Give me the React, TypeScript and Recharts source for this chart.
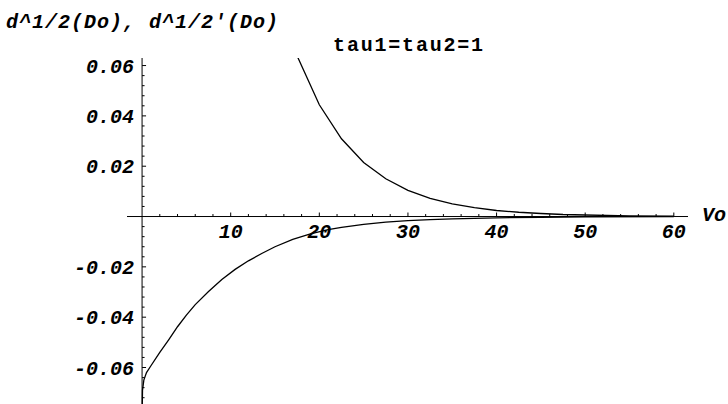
import React from "react";
import { LineChart, Line, XAxis, YAxis, ReferenceLine } from "recharts";

// d^1/2(Do) branch, decays above the axis
const upperVo = [17.5, 20, 22.5, 25, 27.5, 30, 32.5, 35, 37.5, 40, 42.5, 45, 47.5, 50, 55, 60];
const upperD = [0.0638, 0.0444, 0.0309, 0.0215, 0.015, 0.0104, 0.0072, 0.005, 0.0035, 0.0024, 0.0017, 0.0012, 0.0008, 0.0006, 0.0003, 0.00014];

// d^1/2'(Do) branch, rises from below toward zero
const lowerVo = [0, 0.05, 0.2, 0.5, 1, 2, 3, 4, 5, 6, 7.5, 9, 10.5, 12, 13.5, 15, 17, 19, 21, 22.5, 25, 27.5, 30, 32.5, 35, 40, 45, 50, 60];
const lowerD = [-0.08, -0.069, -0.065, -0.062, -0.0593, -0.054, -0.049, -0.0438, -0.0392, -0.035, -0.0298, -0.025, -0.021, -0.0176, -0.0147, -0.012, -0.0091, -0.0069, -0.0052, -0.0043, -0.0031, -0.0022, -0.0016, -0.0012, -0.0009, -0.0005, -0.0003, -0.00015, -0.00005];

const xMajor = [10, 20, 30, 40, 50, 60];
const yMajor = [-0.06, -0.04, -0.02, 0.02, 0.04, 0.06];

const upper = upperVo.map((vo, i) => ({ vo, d: upperD[i] }));
const lower = lowerVo.map((vo, i) => ({ vo, d: lowerD[i] }));

const W = 728;
const H = 404;
const M = { top: 58, right: 40, bottom: 0, left: 127 };
const X_MIN = -1.7;
const X_MAX = 61.6;
const Y_MIN = -0.0745;
const Y_MAX = 0.063;

// where the axes cross, in pixels
const zeroX = M.left + ((0 - X_MIN) / (X_MAX - X_MIN)) * (W - M.left - M.right);
const zeroY = M.top + ((Y_MAX - 0) / (Y_MAX - Y_MIN)) * (H - M.top - M.bottom);

const xTicks: number[] = [];
for (let v = 2; v <= 60; v += 2) xTicks.push(v);
const yTicks: number[] = [];
for (let k = -18; k <= 15; k++) if (k !== 0) yTicks.push(Math.round(k * 4) / 1000);

const font = "'Liberation Mono', 'Courier New', monospace";

const isMajor = (list: number[], v: number) => list.some((m) => Math.abs(m - v) < 1e-9);

function XTick(props: any) {
  const { x, payload } = props;
  const v = payload.value;
  const major = isMajor(xMajor, v);
  return (
    <g>
      <line x1={x} x2={x} y1={zeroY} y2={zeroY - (major ? 4 : 2.5)} stroke="#000" strokeWidth={1} />
      {major && (
        <text x={x} y={zeroY + 21} textAnchor="middle" fontFamily={font} fontSize={20} fontWeight="bold" fontStyle="italic" fill="#000">
          {v}
        </text>
      )}
    </g>
  );
}

function YTick(props: any) {
  const { y, payload } = props;
  const v = payload.value;
  const major = isMajor(yMajor, v);
  return (
    <g>
      <line x1={zeroX} x2={zeroX + (major ? 4 : 2.5)} y1={y} y2={y} stroke="#000" strokeWidth={1} />
      {major && (
        <text x={zeroX - 8} y={y} dy="0.35em" textAnchor="end" fontFamily={font} fontSize={20} fontWeight="bold" fontStyle="italic" fill="#000">
          {v.toFixed(2)}
        </text>
      )}
    </g>
  );
}

export default function App() {
  return (
    <div style={{ position: "absolute", left: 0, top: 0, width: W, height: H, background: "#fff" }}>
      <LineChart width={W} height={H} margin={M}>
        <XAxis
          type="number"
          dataKey="vo"
          domain={[X_MIN, X_MAX]}
          allowDataOverflow
          ticks={xTicks}
          interval={0}
          mirror
          axisLine={false}
          tickLine={false}
          tick={(p: any) => <XTick {...p} />}
        />
        <YAxis
          type="number"
          dataKey="d"
          domain={[Y_MIN, Y_MAX]}
          allowDataOverflow
          ticks={yTicks}
          interval={0}
          mirror
          axisLine={false}
          tickLine={false}
          tick={(p: any) => <YTick {...p} />}
        />
        <ReferenceLine y={0} stroke="#000" strokeWidth={1} />
        <ReferenceLine x={0} stroke="#000" strokeWidth={1} />
        <Line data={upper} dataKey="d" type="linear" stroke="#000" strokeWidth={1.3} dot={false} isAnimationActive={false} />
        <Line data={lower} dataKey="d" type="linear" stroke="#000" strokeWidth={1.3} dot={false} isAnimationActive={false} />
        <text x={6} y={28} fontFamily={font} fontSize={20} fontWeight="bold" fontStyle="italic" letterSpacing={1} fill="#000">
          d^1/2(Do), d^1/2'(Do)
        </text>
        <text x={409} y={51} textAnchor="middle" fontFamily={font} fontSize={20} fontWeight="bold" letterSpacing={1.8} fill="#000">
          tau1=tau2=1
        </text>
        <text x={702} y={221} fontFamily={font} fontSize={20} fontWeight="bold" fontStyle="italic" fill="#000">
          Vo
        </text>
      </LineChart>
    </div>
  );
}
